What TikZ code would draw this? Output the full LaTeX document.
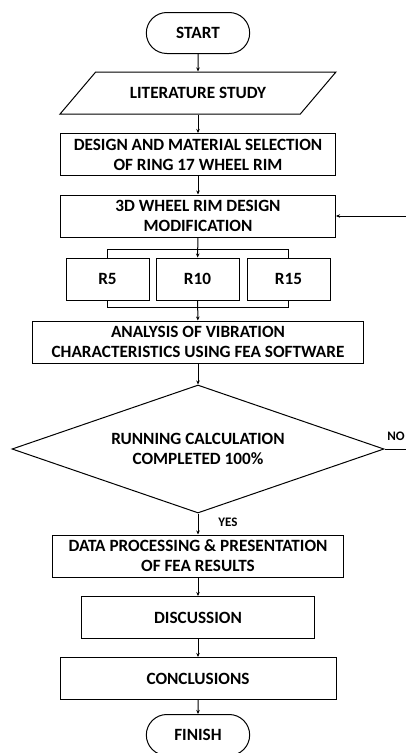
\documentclass[tikz,border=0pt]{standalone}
\usepackage{fontspec}
\setmainfont{Carlito}
\usetikzlibrary{arrows.meta,shapes.geometric,shapes.misc}

\begin{document}
\begin{tikzpicture}[x=1pt,y=-1pt,line width=1pt,
    font=\fontsize{17.2}{20}\selectfont\bfseries,
    box/.style={draw,rectangle,align=center,inner sep=1pt,minimum height=42pt},
    term/.style={draw,rounded rectangle,minimum width=110pt,minimum height=41pt},
    arr/.style={-{Stealth[length=4pt,width=3.5pt]}}]
  \useasboundingbox (0,0) rectangle (405,753);
  \node[term] (start) at (198,33) {START};
  \node[draw,trapezium,trapezium left angle=36,trapezium right angle=144,
        trapezium stretches=true,minimum width=276pt,minimum height=42pt] (lit) at (198,93) {LITERATURE STUDY};
  \node[box,minimum width=275pt] (sel) at (198,154.5) {DESIGN AND MATERIAL SELECTION\\OF RING 17 WHEEL RIM};
  \node[box,minimum width=275pt] (mod) at (198,216) {3D WHEEL RIM DESIGN\\MODIFICATION};
  % the three radius variants
  \node[box,minimum width=83pt] (r5) at (107.5,279) {R5};
  \node[box,minimum width=83pt] (r10) at (197.5,279) {R10};
  \node[box,minimum width=83pt] (r15) at (288.5,279) {R15};
  \node[box,minimum width=331pt] (ana) at (198,342) {ANALYSIS OF VIBRATION\\CHARACTERISTICS USING FEA SOFTWARE};
  \node[draw,diamond,shape aspect=2.9,align=center,inner sep=0pt,
        minimum width=372pt,minimum height=128pt] (calc) at (198,449) {RUNNING CALCULATION\\COMPLETED 100\%};
  \node[box,minimum width=291pt] (data) at (198,556) {DATA PROCESSING \& PRESENTATION\\OF FEA RESULTS};
  \node[box,minimum width=233pt] (disc) at (198,617.5) {DISCUSSION};
  \node[box,minimum width=276pt] (conc) at (198,678.5) {CONCLUSIONS};
  \node[term] (fin) at (198,735) {FINISH};
  \node[font=\fontsize{13}{15}\selectfont\bfseries] (no) at (396,436) {NO};
  \node[font=\fontsize{13}{15}\selectfont\bfseries] (yes) at (228,522) {YES};
  \coordinate (back) at (412,449);

  \draw[arr] (start) -- (lit);
  \draw[arr] (lit) -- (sel);
  \draw[arr] (sel) -- (mod);
  \draw[arr] (mod) -- (r10);
  \draw (r5.north) -- ++(0,-8) -| (r15.north);
  \draw (r5.south) -- ++(0,7) -| (r15.south);
  \draw[arr] (r10) -- (ana);
  \draw[arr] (ana) -- (calc);
  \draw[arr] (calc) -- (data);
  \draw[arr] (data) -- (disc);
  \draw[arr] (disc) -- (conc);
  \draw[arr] (conc) -- (fin);
  \draw[arr] (calc.east) -- (back) |- (mod.east);
\end{tikzpicture}
\end{document}
